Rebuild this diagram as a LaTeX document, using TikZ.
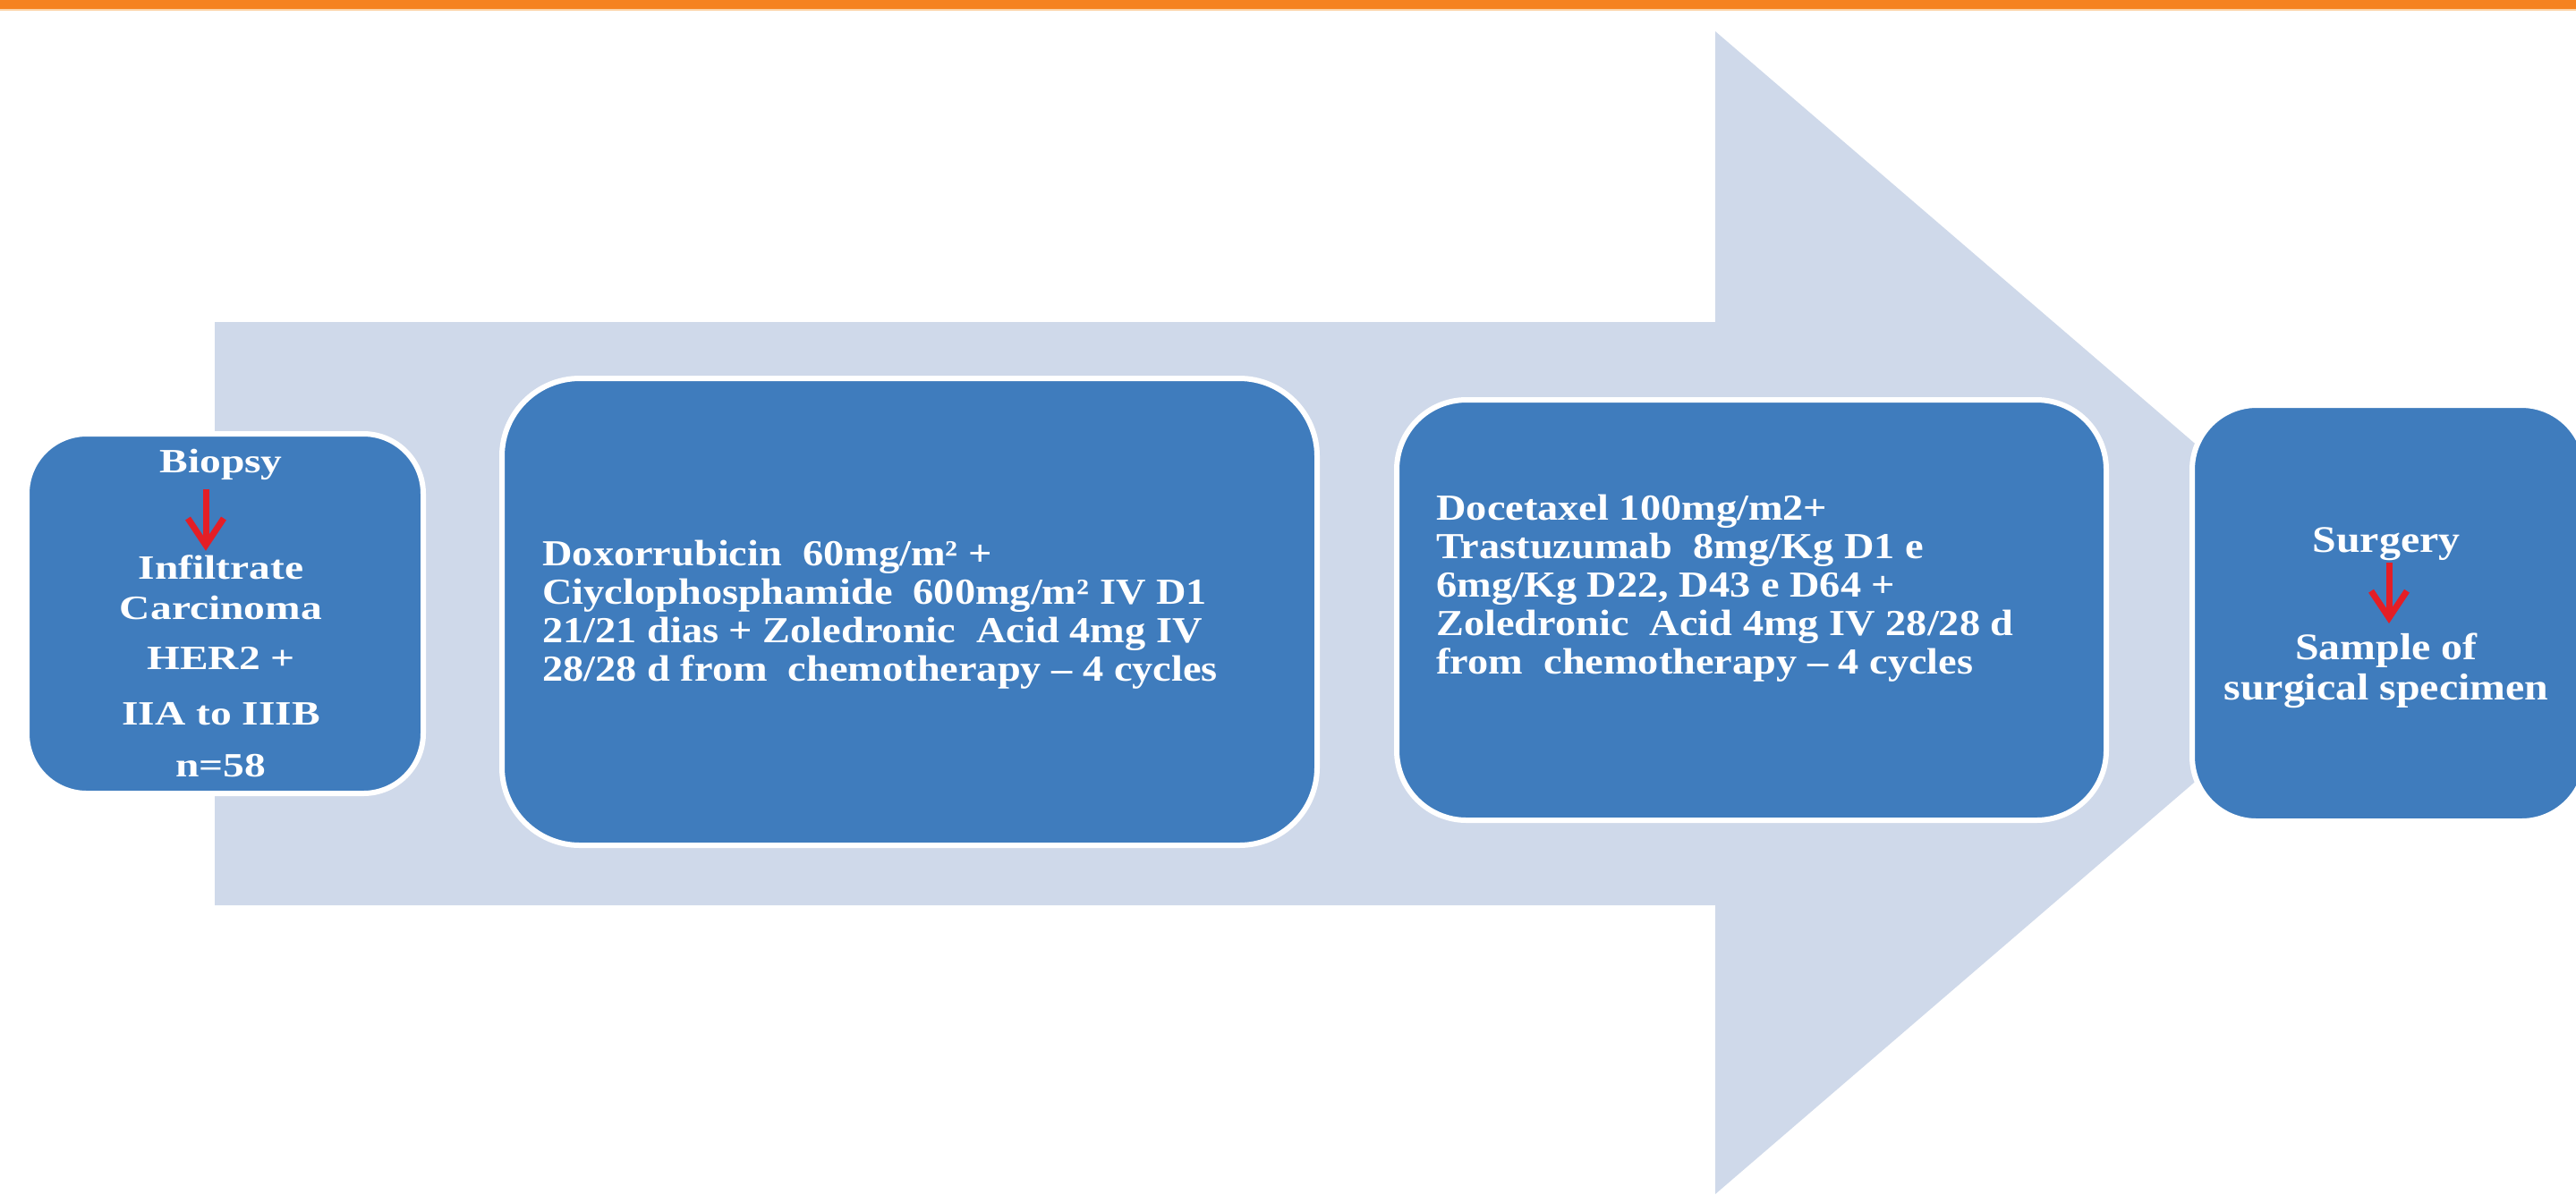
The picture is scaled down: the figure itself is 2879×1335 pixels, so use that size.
\documentclass[tikz,border=0pt]{standalone}
\usepackage{fontspec}
\setmainfont{Liberation Serif}
\newfontfamily\fontA[FakeStretch=1.25]{Liberation Serif}
\newfontfamily\fontB[FakeStretch=1.13]{Liberation Serif}
\newfontfamily\fontC[FakeStretch=1.14]{Liberation Serif}
\usetikzlibrary{arrows.meta}
\definecolor{boxblue}{RGB}{63,124,189}
\definecolor{bgarrow}{RGB}{207,217,234}
\definecolor{topbar}{RGB}{245,130,32}
\definecolor{topbarlight}{RGB}{252,210,165}
\definecolor{redarrow}{RGB}{228,30,38}
\begin{document}
\begin{tikzpicture}[x=0.5pt,y=-0.5pt,
  box/.style={draw=white, line width=3pt, fill=boxblue, rectangle, inner sep=0pt},
  txt/.style={text=white, inner sep=0pt},
  txtA/.style={txt, anchor=base, font=\fontA\bfseries\fontsize{19}{22}\selectfont},
  txtC/.style={txt, anchor=base, font=\fontC\bfseries\fontsize{21}{24}\selectfont},
  txtB/.style={txt, anchor=north west, align=left, font=\fontB\bfseries\fontsize{20.5}{21.5}\selectfont},
  redarr/.style={draw=redarrow, line width=3.5pt, -{Straight Barb[length=15pt,width=20pt]}}
]
\useasboundingbox (0,0) rectangle (2879,1335);
\fill[white] (0,0) rectangle (2879,1335);
\fill[topbar] (0,0) rectangle (2879,10);
\fill[topbarlight] (0,10) rectangle (2879,12);
% big background arrow
\fill[bgarrow] (240,360) -- (1917,360) -- (1917,35) -- (2673,685) -- (1917,1335) -- (1917,1012) -- (240,1012) -- cycle;
% boxes
\node[box, minimum width=221.5pt, minimum height=201pt, rounded corners=33.5pt] (b1) at (251.5,686) {};
\node[box, minimum width=455.5pt, minimum height=261pt, rounded corners=43.5pt] (b2) at (1016.5,684) {};
\node[box, minimum width=396.5pt, minimum height=235pt, rounded corners=39pt] (b3) at (1957.5,682) {};
\node[box, minimum width=220pt, minimum height=232.5pt, rounded corners=36pt] (b4) at (2670,685.5) {};
% box 1 text
\node[txtA] (biopsy) at (247,528) {Biopsy};
\node[txtA] (infil) at (247,647) {Infiltrate};
\node[txtA] (carc) at (247,692) {Carcinoma};
\node[txtA] (her) at (247,748) {HER2 +};
\node[txtA] (stage) at (247,810) {IIA to IIIB};
\node[txtA] (nn) at (247,868) {n=58};
\draw[redarr, shorten <=5pt, shorten >=2pt] ([xshift=-8.5pt]biopsy.south) -- ([xshift=-8.5pt]infil.north);
% box 2 text
\node[txtB] (chemo1) at (606,604) {Doxorrubicin\ \ 60mg/m² +\\
Ciyclophosphamide\ \ 600mg/m² IV D1\\
21/21 dias + Zoledronic\ \ Acid 4mg IV\\
28/28 d from\ \ chemotherapy – 4 cycles};
% box 3 text
\node[txtB] (chemo2) at (1605,553) {Docetaxel 100mg/m2+\\
Trastuzumab\ \ 8mg/Kg D1 e\\
6mg/Kg D22, D43 e D64 +\\
Zoledronic\ \ Acid 4mg IV 28/28 d\\
from\ \ chemotherapy – 4 cycles};
% box 4 text
\node[txtC] (surg) at (2667,617) {Surgery};
\node[txtC] (sample) at (2667,737) {Sample of};
\node[txtC] (spec) at (2667,782) {surgical specimen};
\draw[redarr, shorten <=1pt, shorten >=5pt] ([xshift=1.5pt]surg.south) -- ([xshift=1.5pt]sample.north);
\end{tikzpicture}
\end{document}
